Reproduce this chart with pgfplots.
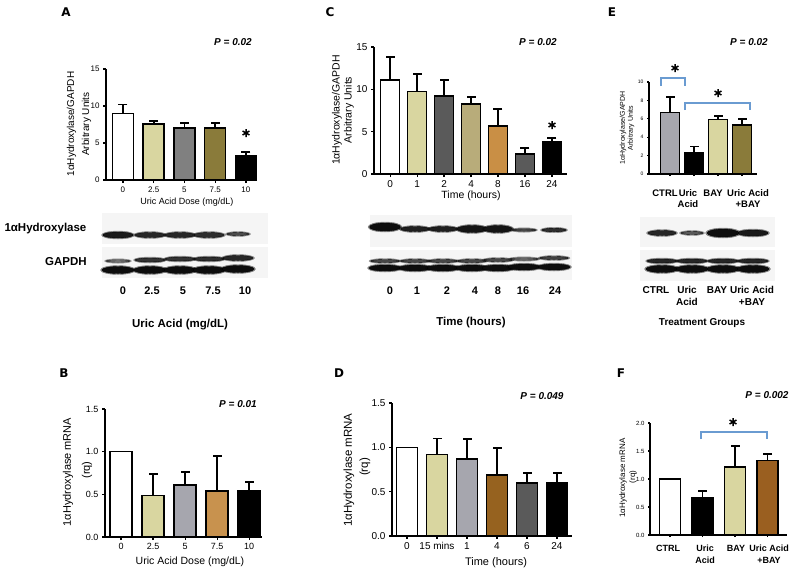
\documentclass[border=0pt]{standalone}
\usepackage{fontspec}
\setmainfont{Liberation Sans}
\newfontfamily\dejavu{DejaVu Sans}
\usepackage{pgfplots}
\pgfplotsset{compat=1.18}
\usetikzlibrary{plotmarks}

\definecolor{pale}{HTML}{D9D6A0}
\definecolor{midgray}{HTML}{808080}
\definecolor{olive}{HTML}{8A7B3A}
\definecolor{dkgray}{HTML}{5A5A5A}
\definecolor{khaki}{HTML}{B8AC7A}
\definecolor{orng}{HTML}{C98F45}
\definecolor{lav}{HTML}{A6A6AE}
\definecolor{tan}{HTML}{C8924E}
\definecolor{brown}{HTML}{96621F}
\definecolor{brownF}{HTML}{9A5F20}
\definecolor{brk}{HTML}{6A9BD1}

\newcommand{\fs}[2]{\fontsize{#1}{#2}\selectfont}
% one bar: x, mean, top of error bar, colour
\newcommand{\pbar}[4]{%
  \addplot[fill=#4, draw=black, line width=1.5pt, bar shift=0pt] coordinates {(#1,#2)};
  \addplot[sharp plot, black, line width=1.8pt, mark=-, mark size=4.5pt, mark indices={2},
    mark options={line width=1.8pt, solid}] coordinates {(#1,#2) (#1,#3)};}
% one bar without error bar
\newcommand{\pbarn}[3]{\addplot[fill=#3, draw=black, line width=1.5pt, bar shift=0pt]
  coordinates {(#1,#2)};}
% one blot band: x, y, width, height, darkness
\newcommand{\band}[5]{%
  \addplot[only marks, mark=*, mark size=0.5pt, mark options={draw=none, fill=black!#5, opacity=0.4, xscale=#3+3, yscale=#4+2}] coordinates {(#1,#2)};
  \addplot[only marks, mark=*, mark size=0.5pt, mark options={draw=none, fill=black!#5, xscale=#3, yscale=#4}] coordinates {(#1,#2)};}
\newcommand{\lbl}[3]{\node[font=\bfseries\fs{11}{12}] at (#1,#2) {#3};}

\pgfplotsset{
  gp/.style={
    scale only axis, ybar, ymin=0, clip=false,
    axis lines=left, axis line style={-, line width=1.5pt, black},
    enlargelimits=false,
    tick align=outside, major tick length=3pt,
    tick style={black, line width=1.2pt},
    xlabel={}, ylabel={},
  },
}

\begin{document}
\begin{tikzpicture}
\path[use as bounding box] (0pt,0pt) rectangle (800pt,-571pt);

% ---------------- A ----------------
\begin{axis}[gp, at={(106pt,-180pt)}, anchor=south west,
  width=151pt, height=111pt, xmin=-0.55, xmax=4.36, ymax=15,
  bar width=21pt,
  xtick={0,1,2,3,4}, xticklabels={0,2.5,5,7.5,10},
  ytick={0,5,10,15}, yticklabels={0,5,10,15},
  tick label style={font=\fs{8}{9}}]
\pbar{0}{9.0}{10.2}{white}
\pbar{1}{7.57}{8.0}{pale}
\pbar{2}{7.0}{7.65}{midgray}
\pbar{3}{7.0}{7.65}{olive}
\pbar{4}{3.3}{3.8}{black}
\end{axis}

% ---------------- C ----------------
\begin{axis}[gp, at={(374pt,-174pt)}, anchor=south west,
  width=193pt, height=127pt, xmin=-0.6, xmax=6.56, ymax=15,
  bar width=19pt,
  xtick={0,...,6}, xticklabels={0,1,2,4,8,16,24},
  ytick={0,5,10,15}, yticklabels={0,5,10,15},
  tick label style={font=\fs{10}{11}}]
\pbar{0}{11.1}{13.8}{white}
\pbar{1}{9.77}{11.8}{pale}
\pbar{2}{9.2}{11.1}{dkgray}
\pbar{3}{8.26}{9.1}{khaki}
\pbar{4}{5.67}{7.7}{orng}
\pbar{5}{2.36}{3.07}{dkgray}
\pbar{6}{3.78}{4.25}{black}
\end{axis}

% ---------------- E ----------------
\begin{axis}[gp, at={(649pt,-174pt)}, anchor=south west,
  width=108pt, height=92pt, xmin=-0.875, xmax=3.625, ymax=10,
  bar width=19pt,
  xtick={0,1,2,3}, xticklabels={},
  ytick={0,2,4,6,8,10}, yticklabels={0,2,4,6,8,10},
  tick label style={font=\fs{5}{6}}, major tick length=2pt]
\pbar{0}{6.7}{8.33}{lav}
\pbar{1}{2.36}{3.0}{black}
\pbar{2}{5.9}{6.34}{pale}
\pbar{3}{5.33}{5.98}{olive}
\end{axis}

% ---------------- B ----------------
\begin{axis}[gp, at={(105pt,-537pt)}, anchor=south west,
  width=157pt, height=128pt, xmin=-0.5, xmax=4.4, ymax=1.5,
  bar width=22pt,
  xtick={0,1,2,3,4}, xticklabels={0,2.5,5,7.5,10},
  ytick={0,0.5,1,1.5}, yticklabels={0.0,0.5,1.0,1.5},
  tick label style={font=\fs{9}{10}}]
\pbarn{0}{1.0}{white}
\pbar{1}{0.484}{0.738}{pale}
\pbar{2}{0.61}{0.758}{lav}
\pbar{3}{0.54}{0.95}{tan}
\pbar{4}{0.54}{0.645}{black}
\end{axis}

% ---------------- D ----------------
\begin{axis}[gp, at={(392pt,-536pt)}, anchor=south west,
  width=180pt, height=133pt, xmin=-0.5, xmax=5.5, ymax=1.5,
  bar width=21pt,
  xtick={0,...,5}, xticklabels={0,15 mins,1,4,6,24},
  ytick={0,0.5,1,1.5}, yticklabels={0.0,0.5,1.0,1.5},
  tick label style={font=\fs{10}{11}}]
\pbarn{0}{1.0}{white}
\pbar{1}{0.92}{1.10}{pale}
\pbar{2}{0.87}{1.09}{lav}
\pbar{3}{0.69}{0.99}{brown}
\pbar{4}{0.60}{0.71}{dkgray}
\pbar{5}{0.60}{0.71}{black}
\end{axis}

% ---------------- F ----------------
\begin{axis}[gp, at={(650pt,-535pt)}, anchor=south west,
  width=137pt, height=112pt, xmin=-0.615, xmax=3.6, ymax=2,
  bar width=21pt,
  xtick={0,1,2,3}, xticklabels={},
  ytick={0,0.5,1,1.5,2}, yticklabels={0.0,0.5,1.0,1.5,2.0},
  tick label style={font=\fs{6}{7}}, major tick length=2pt]
\pbarn{0}{1.0}{white}
\pbar{1}{0.66}{0.78}{black}
\pbar{2}{1.21}{1.59}{pale}
\pbar{3}{1.33}{1.44}{brownF}
\end{axis}

% ------------- overlay in pixel units: blots, brackets, texts -------------
\begin{axis}[at={(0pt,0pt)}, anchor=north west, scale only axis,
  width=800pt, height=571pt, xmin=0, xmax=800, ymin=0, ymax=571,
  y dir=reverse, hide axis, clip=false]
% blot backgrounds
\addplot[fill=gray!8, draw=none] coordinates {(102,213) (268,213) (268,244) (102,244)};
\addplot[fill=gray!8, draw=none] coordinates {(102,247) (268,247) (268,278) (102,278)};
\addplot[fill=gray!8, draw=none] coordinates {(370,215) (572,215) (572,247) (370,247)};
\addplot[fill=gray!8, draw=none] coordinates {(370,250) (572,250) (572,280) (370,280)};
\addplot[fill=gray!8, draw=none] coordinates {(640,217) (775,217) (775,247) (640,247)};
\addplot[fill=gray!8, draw=none] coordinates {(640,250) (775,250) (775,281) (640,281)};
% blot A
\band{118}{235}{30}{6}{90}\band{150}{235}{30}{5}{85}\band{180}{235}{30}{5}{85}
\band{209}{235}{30}{5}{82}\band{238}{234}{22}{3}{70}
\band{118}{261}{24}{2.5}{55}\band{150}{260}{30}{4}{80}\band{180}{259}{30}{4}{80}
\band{209}{259}{30}{4}{82}\band{238}{258}{30}{5}{85}
\band{118}{270}{32}{7}{95}\band{150}{270}{32}{7}{95}\band{180}{270}{32}{7}{95}
\band{209}{270}{32}{7}{95}\band{238}{269}{32}{7}{95}
% blot C
\band{385}{227}{31}{8}{95}\band{415}{229}{29}{5}{88}\band{443}{229}{29}{5}{88}
\band{472}{229}{30}{7}{92}\band{498}{229}{29}{7}{92}\band{524}{230}{24}{2.5}{72}
\band{554}{230}{24}{3.5}{82}
\band{385}{261}{29}{3}{72}\band{415}{261}{29}{3}{72}\band{443}{261}{29}{3}{72}
\band{472}{261}{29}{3}{72}\band{498}{260}{29}{3}{72}\band{524}{259}{29}{2.5}{60}
\band{554}{258}{29}{3}{75}
\band{385}{268}{32}{6}{95}\band{415}{268}{32}{6}{95}\band{443}{268}{32}{6}{95}
\band{472}{268}{32}{6}{95}\band{498}{268}{32}{6}{95}\band{524}{267}{32}{6}{95}
\band{554}{267}{32}{6}{95}
% blot E
\band{662}{233}{28}{5}{85}\band{692}{233}{22}{3}{65}\band{723}{233}{32}{8}{95}
\band{753}{233}{30}{6}{90}
\band{662}{261}{30}{4}{85}\band{692}{261}{30}{4}{85}\band{723}{261}{30}{4}{85}
\band{753}{261}{30}{4}{85}
\band{662}{269}{32}{7}{95}\band{692}{269}{32}{7}{95}\band{723}{269}{32}{7}{95}
\band{753}{269}{32}{7}{95}
% brackets
\addplot[brk, line width=1.2pt] coordinates {(661,86) (661,78) (685,78) (685,86)};
\addplot[brk, line width=1.2pt] coordinates {(685,110) (685,103) (750,103) (750,110)};
\addplot[brk, line width=1.2pt] coordinates {(701,439) (701,432) (767,432) (767,439)};
% significance stars
\addplot[only marks, mark=asterisk, mark size=4pt, line width=1.5pt, black]
  coordinates {(246,133) (552,125) (675,68) (718,93) (733,422)};
% panel letters
\node[font=\dejavu\bfseries\fs{12}{14}] at (66,12) {A};
\node[font=\dejavu\bfseries\fs{12}{14}] at (330,12) {C};
\node[font=\dejavu\bfseries\fs{12}{14}] at (612,12) {E};
\node[font=\dejavu\bfseries\fs{12}{14}] at (64,373) {B};
\node[font=\dejavu\bfseries\fs{12}{14}] at (339,373) {D};
\node[font=\dejavu\bfseries\fs{12}{14}] at (621,373) {F};
% P values
\node[font=\bfseries\itshape\fs{10}{12}] at (233,42) {P = 0.02};
\node[font=\bfseries\itshape\fs{10}{12}] at (538,42) {P = 0.02};
\node[font=\bfseries\itshape\fs{10}{12}] at (749,42) {P = 0.02};
\node[font=\bfseries\itshape\fs{10}{12}] at (238,404) {P = 0.01};
\node[font=\bfseries\itshape\fs{10}{12}] at (542,396) {P = 0.049};
\node[font=\bfseries\itshape\fs{10}{12}] at (767,395) {P = 0.002};
% y labels
\node[rotate=90, align=center, font=\fs{10}{15}] at (79,124) {1αHydroxylase/GAPDH\\Arbitrary Units};
\node[rotate=90, align=center, font=\fs{10.5}{12}] at (343,110) {1αHydroxylase/GAPDH\\Arbitrary Units};
\node[rotate=90, align=center, font=\fs{7}{8}] at (627,128) {1αHydroxylase/GAPDH\\Arbitrary Units};
\node[rotate=90, font=\fs{11}{12}] at (68,472) {1αHydroxylase mRNA};
\node[rotate=90, font=\fs{11}{12}] at (87,470) {(rq)};
\node[rotate=90, font=\fs{11.5}{12}] at (349,470) {1αHydroxylase mRNA};
\node[rotate=90, font=\fs{11.5}{12}] at (365,467) {(rq)};
\node[rotate=90, font=\fs{8}{9}] at (623,478) {1αHydroxylase mRNA};
\node[rotate=90, font=\fs{8}{9}] at (633,477) {(rq)};
% x labels
\node[font=\fs{9}{10}] at (187,202) {Uric Acid Dose (mg/dL)};
\node[font=\fs{10.5}{12}] at (471,196) {Time (hours)};
\node[font=\fs{10.5}{12}] at (190,562) {Uric Acid Dose (mg/dL)};
\node[font=\fs{11}{12}] at (496,563) {Time (hours)};
% E and F category labels
\node[font=\bfseries\fs{9.5}{11}] at (665,193) {CTRL};
\node[font=\bfseries\fs{9.5}{11}, align=center] at (688,199) {Uric\\Acid};
\node[font=\bfseries\fs{9.5}{11}] at (713,193) {BAY};
\node[font=\bfseries\fs{9.5}{11}, align=center] at (748,199) {Uric Acid\\+BAY};
\node[font=\bfseries\fs{9}{12}] at (668,548) {CTRL};
\node[font=\bfseries\fs{9}{12}, align=center] at (705,554) {Uric\\Acid};
\node[font=\bfseries\fs{9}{12}] at (736,548) {BAY};
\node[font=\bfseries\fs{9}{12}, align=center] at (769,554) {Uric Acid\\+BAY};
% blot labels
\node[font=\bfseries\fs{11.5}{13}, anchor=west] at (1,229) {1αHydroxylase};
\node[font=\bfseries\fs{11.5}{13}] at (66,262) {GAPDH};
\lbl{123}{291}{0}\lbl{152}{291}{2.5}\lbl{183}{291}{5}\lbl{213}{291}{7.5}\lbl{245}{291}{10}
\node[font=\bfseries\fs{11.5}{13}] at (180,325) {Uric Acid (mg/dL)};
\lbl{390}{291}{0}\lbl{417}{291}{1}\lbl{447}{291}{2}\lbl{475}{291}{4}
\lbl{498}{291}{8}\lbl{523}{291}{16}\lbl{555}{291}{24}
\node[font=\bfseries\fs{11.5}{13}] at (471,323) {Time (hours)};
\node[font=\bfseries\fs{10}{12}] at (656,290) {CTRL};
\node[font=\bfseries\fs{10}{12}, align=center] at (687,296) {Uric\\Acid};
\node[font=\bfseries\fs{10}{12}] at (717,290) {BAY};
\node[font=\bfseries\fs{10}{12}, align=center] at (752,296) {Uric Acid\\+BAY};
\node[font=\bfseries\fs{10}{12}] at (702,323) {Treatment Groups};
\end{axis}
\end{tikzpicture}
\end{document}
